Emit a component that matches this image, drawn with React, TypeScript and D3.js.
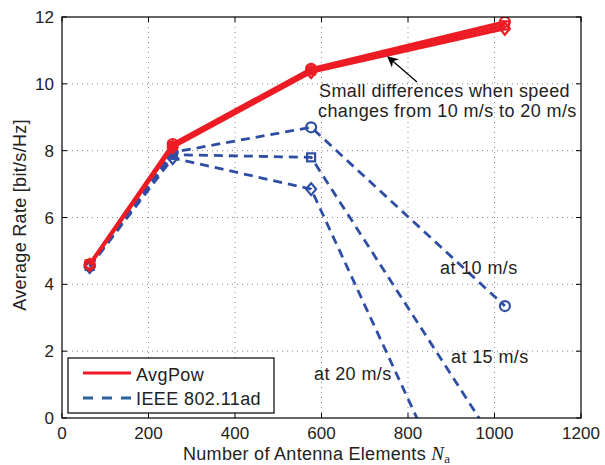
import React from "react";
import * as d3 from "d3";

const antennas = [64, 256, 576, 1024];
const avgPow10 = [4.6, 8.2, 10.45, 11.85];
const avgPow15 = [4.6, 8.15, 10.4, 11.75];
const avgPow20 = [4.58, 8.1, 10.35, 11.65];
const ieee10 = [4.55, 7.95, 8.7, 3.35];
const ieee15 = [4.55, 7.88, 7.8, -1.2];
const ieee20 = [4.52, 7.78, 6.85, -5.7];
const xTicks = [0, 200, 400, 600, 800, 1000, 1200];
const yTicks = [0, 2, 4, 6, 8, 10, 12];

const RED = "#ed1c24";
const BLUE = "#2e4ea5";
const LEG_BLUE = "#2c62a0";
const FONT = "Liberation Sans, Arial, sans-serif";
const TXT = "#222";

type Marker = "circle" | "square" | "diamond";

export default function App() {
  const L = 62, R = 581, T = 17, B = 418;
  const x = d3.scaleLinear().domain([0, 1200]).range([L, R]);
  const y = d3.scaleLinear().domain([0, 12]).range([B, T]);
  const line = d3.line<number>().x((_, i) => x(antennas[i])).y((d) => y(d));

  const marker = (m: Marker, cx: number, cy: number, color: string, key: string, size = 5) => {
    if (m === "circle") return <circle key={key} cx={cx} cy={cy} r={size} fill="none" stroke={color} strokeWidth={2.2} />;
    if (m === "square") return <rect key={key} x={cx - size + 1} y={cy - size + 1} width={2 * size - 2} height={2 * size - 2} fill="none" stroke={color} strokeWidth={2.2} />;
    return <path key={key} d={`M${cx},${cy - size - 1}L${cx + size},${cy}L${cx},${cy + size + 1}L${cx - size},${cy}Z`} fill="none" stroke={color} strokeWidth={2.2} />;
  };

  const red: [number[], Marker][] = [[avgPow10, "circle"], [avgPow15, "square"], [avgPow20, "diamond"]];
  const blue: [number[], Marker][] = [[ieee10, "circle"], [ieee15, "square"], [ieee20, "diamond"]];

  return (
    <svg width={605} height={465} style={{ position: "absolute", left: 0, top: 0, background: "#fff" }} fontFamily={FONT}>
      <defs>
        <clipPath id="plot">
          <rect x={L} y={T} width={R - L} height={B - T} />
        </clipPath>
        <marker id="arr" viewBox="0 0 10 10" refX={9} refY={5} markerWidth={11} markerHeight={11} orient="auto" markerUnits="userSpaceOnUse">
          <path d="M0,0L10,5L0,10L3,5Z" fill="#000" />
        </marker>
      </defs>
      <rect x={0} y={0} width={605} height={465} fill="#fff" />
      {/* grid */}
      {xTicks.slice(1, -1).map((t) => (
        <line key={"gx" + t} x1={x(t)} x2={x(t)} y1={T} y2={B} stroke="#888" strokeWidth={1} strokeDasharray="1,4" />
      ))}
      {yTicks.slice(1, -1).map((t) => (
        <line key={"gy" + t} x1={L} x2={R} y1={y(t)} y2={y(t)} stroke="#888" strokeWidth={1} strokeDasharray="1,4" />
      ))}
      {/* ticks */}
      {xTicks.map((t) => (
        <g key={"tx" + t}>
          <line x1={x(t)} x2={x(t)} y1={B} y2={B - 5} stroke="#000" />
          <line x1={x(t)} x2={x(t)} y1={T} y2={T + 5} stroke="#000" />
          <text x={x(t)} y={439} fontSize={17} textAnchor="middle" fill={TXT}>{t}</text>
        </g>
      ))}
      {yTicks.map((t) => (
        <g key={"ty" + t}>
          <line x1={L} x2={L + 5} y1={y(t)} y2={y(t)} stroke="#000" />
          <line x1={R} x2={R - 5} y1={y(t)} y2={y(t)} stroke="#000" />
          <text x={54} y={y(t) + 6} fontSize={17} textAnchor="end" fill={TXT}>{t}</text>
        </g>
      ))}
      <g clipPath="url(#plot)">
        {blue.map(([d, m], i) => (
          <g key={"b" + i}>
            <path d={line(d) || ""} fill="none" stroke={BLUE} strokeWidth={2.8} strokeDasharray="9,6" />
            {d.map((v, j) => marker(m, x(antennas[j]), y(v), BLUE, `bm${i}-${j}`, 5))}
          </g>
        ))}
        {red.map(([d, m], i) => (
          <g key={"r" + i}>
            <path d={line(d) || ""} fill="none" stroke={RED} strokeWidth={3.4} />
            {d.map((v, j) => marker(m, x(antennas[j]), y(v), RED, `rm${i}-${j}`, 5))}
          </g>
        ))}
      </g>
      <rect x={L} y={T} width={R - L} height={B - T} fill="none" stroke="#000" strokeWidth={1.2} />
      {/* annotation */}
      <line x1={417} y1={82} x2={388} y2={57} stroke="#000" strokeWidth={1.3} markerEnd="url(#arr)" />
      <g fontSize={18} fill={TXT} letterSpacing={0.4}>
        <text x={319} y={97}>Small differences when speed</text>
        <text x={318} y={117}>changes from 10 m/s to 20 m/s</text>
        <text x={440} y={274}>at 10 m/s</text>
        <text x={451} y={363}>at 15 m/s</text>
        <text x={314} y={380}>at 20 m/s</text>
      </g>
      {/* legend */}
      <rect x={68} y={358} width={206} height={55} fill="#fff" stroke="#000" strokeWidth={1.2} />
      <line x1={83} x2={131} y1={373} y2={373} stroke={RED} strokeWidth={3} />
      <text x={136} y={381} fontSize={18} letterSpacing={0.4} fill={TXT}>AvgPow</text>
      <line x1={83} x2={131} y1={398} y2={398} stroke={LEG_BLUE} strokeWidth={3} strokeDasharray="10,9" />
      <text x={136} y={405} fontSize={18} letterSpacing={0.4} fill={TXT}>IEEE 802.11ad</text>
      {/* axis labels */}
      <text x={183} y={460} fontSize={18} letterSpacing={0.3} fill={TXT}>
        Number of Antenna Elements{" "}
        <tspan fontFamily="Liberation Serif, serif" fontStyle="italic" fontSize={19}>N</tspan>
        <tspan fontFamily="Liberation Serif, serif" fontSize={13} dy={3}>a</tspan>
      </text>
      <text transform={`translate(26,${215}) rotate(-90)`} fontSize={18} letterSpacing={0.3} textAnchor="middle" fill={TXT}>Average Rate [bit/s/Hz]</text>
    </svg>
  );
}
